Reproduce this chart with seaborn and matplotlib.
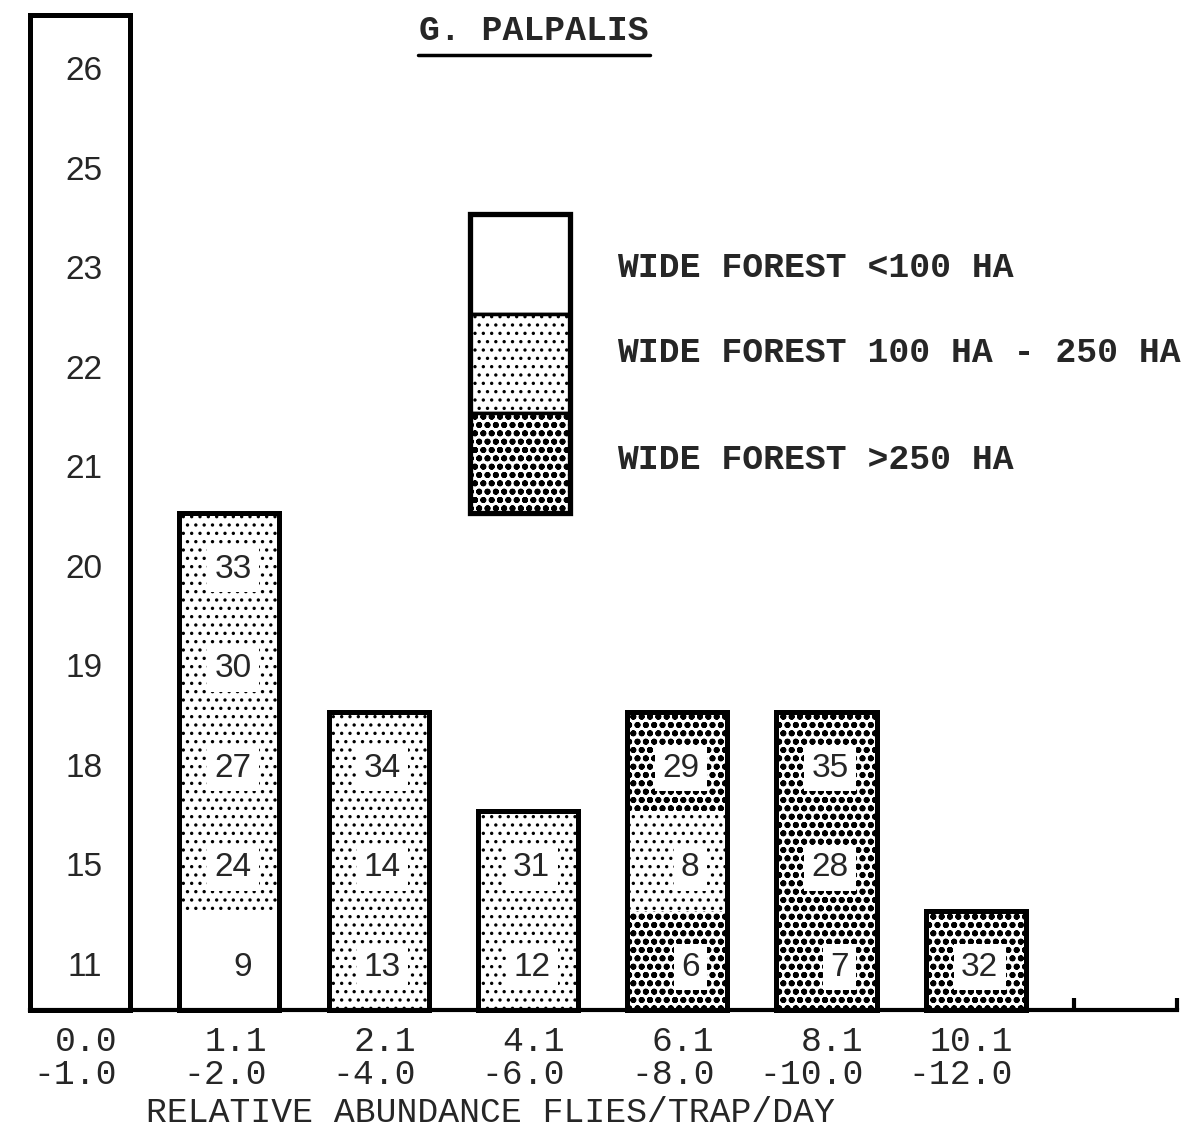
import numpy as np
import pandas as pd
import seaborn as sns
import matplotlib.pyplot as plt
from matplotlib.lines import Line2D

# abundance classes (flies/trap/day)
classes = ["0.0\n-1.0", "1.1\n-2.0", "2.1\n-4.0", "4.1\n-6.0",
           "6.1\n-8.0", "8.1\n-10.0", "10.1\n-12.0"]

# site numbers stacked in each class, bottom to top
sites = [
    [11, 15, 18, 19, 20, 21, 22, 23, 25, 26],
    [9, 24, 27, 30, 33],
    [13, 14, 34],
    [12, 31],
    [6, 8, 29],
    [7, 28, 35],
    [32],
]
# forest size of each site: 0 = <100 HA, 1 = 100-250 HA, 2 = >250 HA
forest = [
    [0, 0, 0, 0, 0, 0, 0, 0, 0, 0],
    [0, 1, 1, 1, 1],
    [1, 1, 1],
    [1, 1],
    [2, 1, 2],
    [2, 2, 2],
    [2],
]
legend_labels = ["WIDE FOREST <100 HA",
                 "WIDE FOREST 100 HA - 250 HA",
                 "WIDE FOREST >250 HA"]

# one row per site
rows = []
for i, (s, f) in enumerate(zip(sites, forest)):
    for lev, (site, fc) in enumerate(zip(s, f)):
        rows.append({"cls": classes[i], "pos": i, "level": lev, "site": site, "forest": fc})
df = pd.DataFrame(rows)
tot = df.groupby("cls", sort=False).size().reset_index(name="n")

sns.set_theme(style="white")
plt.rcParams["font.family"] = ["Liberation Mono", "DejaVu Sans Mono"]
plt.rcParams["hatch.linewidth"] = 1.4

hatches = ["", "..", "oo.."]
hatch_lw = [1.0, 1.2, 1.9]
W = 0.67

fig = plt.figure(figsize=(11.89, 11.35), dpi=100)
ax = fig.add_axes([0, 0, 1, 1])

# cells
for fc in range(3):
    sub = df[df["forest"] == fc]
    bars = ax.bar(sub["pos"], 1, bottom=sub["level"], width=W, facecolor="white",
                  edgecolor="black", linewidth=0, hatch=hatches[fc], zorder=1)
    for p in bars:
        if hasattr(p, "set_hatch_linewidth"):
            p.set_hatch_linewidth(hatch_lw[fc])

# bar outlines
sns.barplot(data=tot, x="cls", y="n", order=classes, fill=False, color="black",
            linewidth=3.6, width=W, errorbar=None, ax=ax, zorder=3)

# site numbers
for _, r in df.iterrows():
    ax.text(r["pos"] + 0.15, r["level"] + 0.43, str(r["site"]), ha="right", va="center",
            family="Liberation Sans", fontsize=24, zorder=4,
            bbox=dict(boxstyle="square,pad=0.22", fc="white", ec="none") if r["forest"] else None)

# legend block
lx = 2.95
for k in range(3):
    p = ax.bar(lx, 1, bottom=7 - k, width=W, facecolor="white", edgecolor="black",
               linewidth=2.5, hatch=hatches[k], zorder=1)[0]
    if hasattr(p, "set_hatch_linewidth"):
        p.set_hatch_linewidth(hatch_lw[k])
ax.bar(lx, 3, bottom=5, width=W, fill=False, edgecolor="black", linewidth=3.8, zorder=3)
for k, y in enumerate([7.46, 6.61, 5.53]):
    ax.text(3.597, y, legend_labels[k], ha="left", va="center", fontsize=25,
            fontweight="bold", zorder=4)

ax.set_xlim(-0.536, 7.428)
ax.set_ylim(-1.256, 10.151)

# axis
sns.despine(ax=ax, left=True)
ax.spines["bottom"].set_position(("data", 0))
ax.spines["bottom"].set_bounds(-0.335, 7.35)
ax.spines["bottom"].set_linewidth(3)
ax.spines["bottom"].set_color("black")
ax.set_xticks(np.arange(len(classes)) + 0.25, classes)
ax.set_xticks([6.66, 7.35], minor=True)
ax.tick_params(axis="x", which="both", bottom=True)
ax.tick_params(axis="x", which="major", length=0, pad=11, labelsize=25)
ax.tick_params(axis="x", which="minor", direction="in", length=9, width=3, color="black")
for lab in ax.get_xticklabels():
    lab.set_ha("right")
    lab.set_linespacing(1.0)
ax.set_yticks([])
ax.set_xlabel("")
ax.set_ylabel("")

fig.text(490 / 1189, 1 - 1113 / 1135, "RELATIVE ABUNDANCE FLIES/TRAP/DAY",
         ha="center", va="center", fontsize=25)
fig.text(534 / 1189, 1 - 30 / 1135, "G. PALPALIS", ha="center", va="center",
         fontsize=25, fontweight="bold")
fig.add_artist(Line2D([418 / 1189, 650 / 1189], [1 - 55 / 1135, 1 - 55 / 1135],
                      color="black", linewidth=2.5, transform=fig.transFigure))

fig.savefig("out.png", dpi=100, facecolor="white")
